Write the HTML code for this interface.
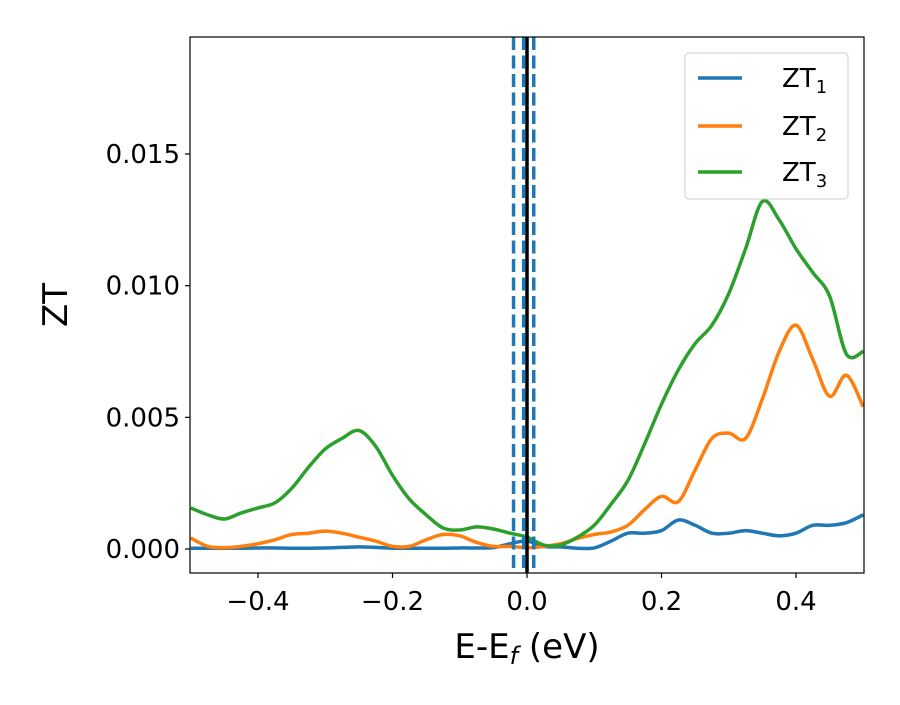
<!DOCTYPE html>
<html><head><meta charset="utf-8"><style>
body{margin:0;background:#fff}
text{font-family:"DejaVu Sans","Liberation Sans",sans-serif}
</style></head><body>
<svg id="c" width="900" height="700" xmlns="http://www.w3.org/2000/svg"></svg>
<script>
const xs=[-0.5,-0.475,-0.45,-0.425,-0.4,-0.375,-0.35,-0.325,-0.3,-0.275,-0.25,-0.225,-0.2,-0.175,-0.15,-0.125,-0.1,-0.075,-0.05,-0.025,0,0.025,0.05,0.075,0.1,0.125,0.15,0.175,0.2,0.225,0.25,0.275,0.3,0.325,0.35,0.375,0.4,0.425,0.45,0.475,0.5];
const zt1=[0.00003,0.00003,0.00003,0.00003,0.00004,0.00004,0.00003,0.00003,0.00004,0.00006,0.00008,0.00006,0.00003,0.00003,0.00003,0.00003,0.00004,0.00004,0.00005,0.0002,0.0003,0.0001,0.00008,0.00003,0.00004,0.0003,0.0006,0.0006,0.0007,0.0011,0.0009,0.0006,0.0006,0.0007,0.0006,0.0005,0.0006,0.0009,0.0009,0.001,0.0013];
const zt2=[0.00042,0.0001,0.00005,0.0001,0.0002,0.00035,0.00055,0.0006,0.00068,0.0006,0.00045,0.0003,0.0001,0.0001,0.00035,0.00055,0.0005,0.00025,0.0001,0.0001,0.00005,0.0001,0.0002,0.0004,0.00055,0.00065,0.0009,0.0015,0.002,0.0018,0.003,0.0042,0.0044,0.0042,0.0057,0.0075,0.0085,0.0072,0.0058,0.0066,0.0054];
const zt3=[0.00156,0.0013,0.00114,0.00137,0.00156,0.00175,0.0023,0.0031,0.0038,0.0042,0.0045,0.0039,0.0028,0.0019,0.0013,0.0008,0.00072,0.00084,0.00076,0.0006,0.00045,0.00015,0.00015,0.00045,0.0009,0.0017,0.0026,0.004,0.0055,0.0068,0.0078,0.0085,0.0097,0.0114,0.0132,0.0125,0.0114,0.0105,0.0096,0.0074,0.0075];
const xTicks=[-0.4,-0.2,0.0,0.2,0.4];
const xTickLabels=["\u22120.4","\u22120.2","0.0","0.2","0.4"];
const yTicks=[0,0.005,0.010,0.015];
const yTickLabels=["0.000","0.005","0.010","0.015"];
const vDashed=[-0.02,-0.005,0.01];
const L=190,R=864,T=37,B=573;
const X=v=>527+672.5*v, Y=v=>549-26333*v;
const svg=document.getElementById('c');
const NS='http://www.w3.org/2000/svg';
function mk(t,a,p){const e=document.createElementNS(NS,t);for(const k in a)e.setAttribute(k,a[k]);(p||svg).appendChild(e);return e;}
const clip=mk('clipPath',{id:'pc'});mk('rect',{x:L,y:T,width:R-L,height:B-T},clip);
function path(ys){const P=xs.map((x,i)=>[X(x),Y(ys[i])]);let d='M'+P[0][0]+','+P[0][1];
for(let i=0;i<P.length-1;i++){const p0=P[Math.max(0,i-1)],p1=P[i],p2=P[i+1],p3=P[Math.min(P.length-1,i+2)];
d+=' C'+(p1[0]+(p2[0]-p0[0])/6)+','+(p1[1]+(p2[1]-p0[1])/6)+' '+(p2[0]-(p3[0]-p1[0])/6)+','+(p2[1]-(p3[1]-p1[1])/6)+' '+p2[0]+','+p2[1];}return d;}
const g=mk('g',{'clip-path':'url(#pc)'});
[[zt1,'#1f77b4','zt1-line'],[zt2,'#ff7f0e','zt2-line'],[zt3,'#2ca02c','zt3-line']].forEach(s=>{
const e=mk('path',{d:path(s[0]),fill:'none',stroke:s[1],'stroke-width':3.5},g);

});
const bl=mk('line',{x1:X(0),x2:X(0),y1:T,y2:B,stroke:'#000','stroke-width':3.5},g);


vDashed.forEach(v=>{const e=mk('line',{x1:X(v),x2:X(v),y1:T,y2:B,stroke:'#1f77b4','stroke-width':3.5,'stroke-dasharray':'13,5.5'},g);

});
const fr=mk('rect',{x:L,y:T,width:R-L,height:B-T,fill:'none',stroke:'#000','stroke-width':1.2});


xTicks.forEach((v,i)=>{mk('line',{x1:X(v),x2:X(v),y1:B,y2:B+5,stroke:'#000','stroke-width':1.2});
const t=mk('text',{x:X(v),y:B+37,'text-anchor':'middle','font-size':26});t.textContent=xTickLabels[i];

});
yTicks.forEach((v,i)=>{mk('line',{x1:L-5,x2:L,y1:Y(v),y2:Y(v),stroke:'#000','stroke-width':1.2});
const t=mk('text',{x:L-10,y:Y(v)+9,'text-anchor':'end','font-size':26});t.textContent=yTickLabels[i];

});
</script>
<svg style="position:absolute;left:0;top:0" width="900" height="700" xmlns="http://www.w3.org/2000/svg">
<text x="527" y="658" text-anchor="middle" font-size="34" font-family="DejaVu Sans, sans-serif">E-E<tspan font-style="italic" font-size="24" dy="6">f</tspan><tspan dy="-6"> (eV)</tspan></text>
<text transform="translate(67,305) rotate(-90)" text-anchor="middle" font-size="34" font-family="DejaVu Sans, sans-serif">ZT</text>
<g>
<rect x="685" y="53" width="163" height="146" rx="4" fill="#fff" fill-opacity="0.8" stroke="#ccc"/>
<line x1="698" x2="742" y1="78" y2="78" stroke="#1f77b4" stroke-width="3.5"/>
<text x="782" y="87" font-size="26" font-family="DejaVu Sans, sans-serif">ZT<tspan font-size="18" dy="6">1</tspan></text>
<line x1="698" x2="742" y1="126" y2="126" stroke="#ff7f0e" stroke-width="3.5"/>
<text x="782" y="135" font-size="26" font-family="DejaVu Sans, sans-serif">ZT<tspan font-size="18" dy="6">2</tspan></text>
<line x1="698" x2="742" y1="172" y2="172" stroke="#2ca02c" stroke-width="3.5"/>
<text x="782" y="181" font-size="26" font-family="DejaVu Sans, sans-serif">ZT<tspan font-size="18" dy="6">3</tspan></text>
</g>
</svg>
</body></html>
